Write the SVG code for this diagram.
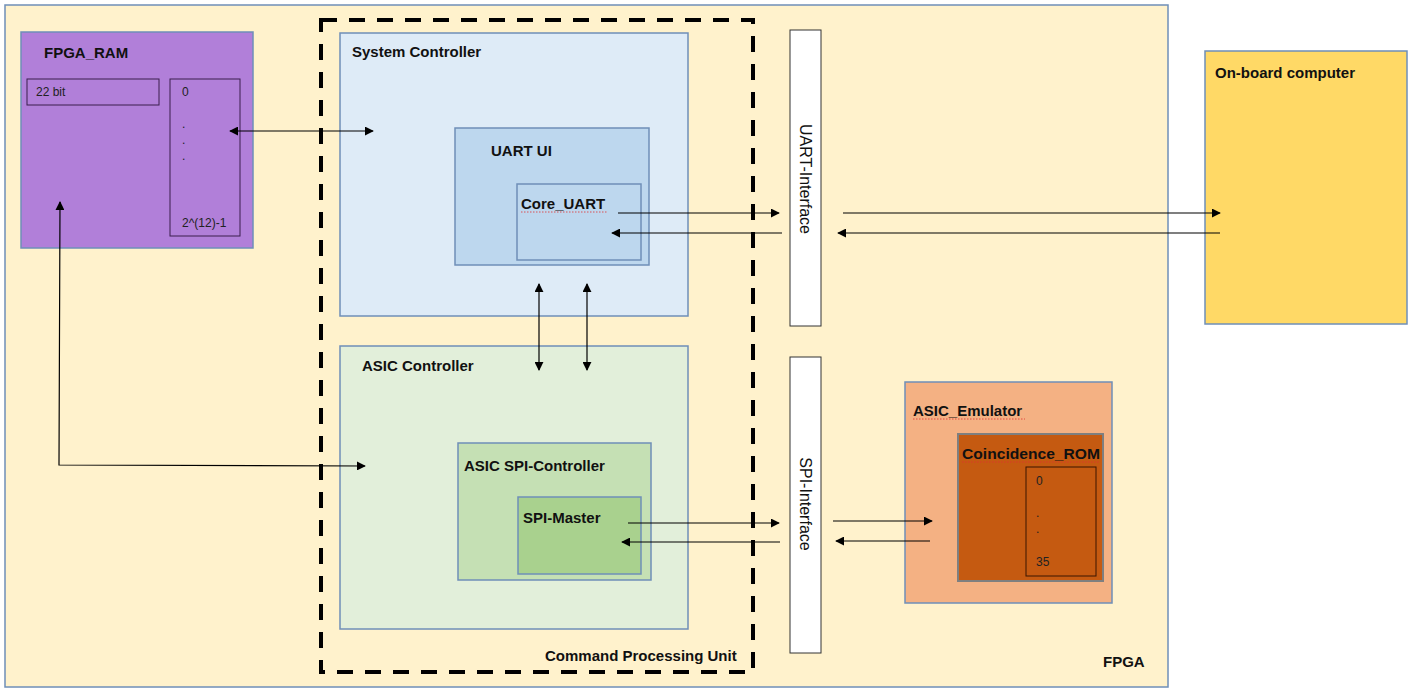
<svg xmlns="http://www.w3.org/2000/svg" width="1413" height="693" viewBox="0 0 1413 693">
<style>
.t{font-family:"Liberation Sans",Arial,sans-serif;font-size:15px;font-weight:bold;fill:#111}
.s{font-family:"Liberation Sans",Arial,sans-serif;font-size:12px;fill:#222}
.v{font-family:"Liberation Sans",Arial,sans-serif;font-size:16px;fill:#111}
.box{stroke:#6f8fb8;stroke-width:1.5}
.c{stroke:#000;stroke-width:1.2;fill:none}
.sq{stroke:#e03030;stroke-width:0.8;fill:none;stroke-dasharray:1.5 1.5}
</style>
<defs>
<marker id="ah" viewBox="0 0 10 10" refX="9" refY="5" markerWidth="9" markerHeight="9" markerUnits="userSpaceOnUse" orient="auto-start-reverse">
<path d="M0,0 L10,5 L0,10 z" fill="#000"/>
</marker>
</defs>
<rect x="0" y="0" width="1413" height="693" fill="#fff"/>
<g id="fpga">
<rect class="box" x="5" y="5" width="1163" height="682" fill="#fff2cc"/>
<text class="t" x="1103" y="667">FPGA</text>
</g>
<g id="fpga_ram">
<rect class="box" x="21" y="32" width="232" height="216" fill="#b17fd9"/>
<text class="t" x="44" y="58">FPGA_RAM</text>
<rect x="27" y="79" width="132" height="26" fill="none" stroke="#3a1f4d" stroke-width="1"/>
<text class="s" x="36" y="96">22 bit</text>
<rect x="170" y="79" width="70" height="157" fill="none" stroke="#3a1f4d" stroke-width="1"/>
<text class="s" x="182" y="96">0</text>
<text class="s" x="182" y="128">.</text>
<text class="s" x="182" y="144">.</text>
<text class="s" x="182" y="160">.</text>
<text class="s" x="182" y="227">2^(12)-1</text>
</g>
<g id="cpu">
<rect x="321" y="20" width="432" height="652" fill="none" stroke="#000" stroke-width="4" stroke-dasharray="16 12"/>
<text class="t" x="545" y="661">Command Processing Unit</text>
</g>
<g id="system_controller">
<rect class="box" x="340" y="33" width="348" height="283" fill="#deebf7"/>
<text class="t" x="352" y="57">System Controller</text>
</g>
<g id="uart_ui">
<rect class="box" x="455" y="128" width="194" height="137" fill="#bdd7ee"/>
<text class="t" x="491" y="156">UART UI</text>
</g>
<g id="core_uart">
<rect class="box" x="517" y="184" width="124" height="76" fill="#bdd7ee"/>
<text class="t" x="521" y="209">Core_UART</text>
<path class="sq" d="M521,212 L607,212"/>
</g>
<g id="asic_controller">
<rect class="box" x="340" y="346" width="348" height="283" fill="#e2efda"/>
<text class="t" x="362" y="371">ASIC Controller</text>
</g>
<g id="asic_spi_controller">
<rect class="box" x="458" y="443" width="193" height="137" fill="#c5e0b4"/>
<text class="t" x="464" y="471">ASIC SPI-Controller</text>
</g>
<g id="spi_master">
<rect class="box" x="518" y="497" width="123" height="77" fill="#a9d18e"/>
<text class="t" x="523" y="523">SPI-Master</text>
</g>
<g id="uart_interface">
<rect x="790" y="30" width="31" height="296" fill="#fff" stroke="#333" stroke-width="1"/>
<text class="v" transform="translate(800,179) rotate(90)" text-anchor="middle">UART-Interface</text>
</g>
<g id="spi_interface">
<rect x="790" y="357" width="31" height="296" fill="#fff" stroke="#333" stroke-width="1"/>
<text class="v" transform="translate(800,504) rotate(90)" text-anchor="middle">SPI-Interface</text>
</g>
<g id="onboard_computer">
<rect class="box" x="1205" y="51" width="202" height="273" fill="#ffd966"/>
<text class="t" x="1215" y="78">On-board computer</text>
</g>
<g id="asic_emulator">
<rect class="box" x="905" y="382" width="207" height="221" fill="#f4b183"/>
<text class="t" x="913" y="416">ASIC_Emulator</text>
<path class="sq" d="M913,419 L1025,419"/>
</g>
<g id="coincidence_rom">
<rect x="958" y="434" width="145" height="147" fill="#c55a11" stroke="#7f7f7f" stroke-width="2"/>
<text class="t" x="962" y="459" textLength="138" lengthAdjust="spacingAndGlyphs">Coincidence_ROM</text>
<path class="sq" d="M962,462 L1099,462"/>
<rect x="1026" y="467" width="70" height="109" fill="none" stroke="#3b1500" stroke-width="1"/>
<text class="s" x="1036" y="485">0</text>
<text class="s" x="1036" y="517">.</text>
<text class="s" x="1036" y="533">.</text>
<text class="s" x="1036" y="566">35</text>
</g>
<g id="connectors">
<path class="c" d="M230,131 L373,131" marker-start="url(#ah)" marker-end="url(#ah)"/>
<path class="c" d="M365,466 L59,465 L60,202" marker-start="url(#ah)" marker-end="url(#ah)"/>
<path class="c" d="M539,284 L539,370" marker-start="url(#ah)" marker-end="url(#ah)"/>
<path class="c" d="M587,284 L587,370" marker-start="url(#ah)" marker-end="url(#ah)"/>
<path class="c" d="M618,213 L779,213" marker-end="url(#ah)"/>
<path class="c" d="M782,233 L612,233" marker-end="url(#ah)"/>
<path class="c" d="M843,213 L1220,213" marker-end="url(#ah)"/>
<path class="c" d="M1220,233 L838,233" marker-end="url(#ah)"/>
<path class="c" d="M628,523 L779,523" marker-end="url(#ah)"/>
<path class="c" d="M780,542 L622,542" marker-end="url(#ah)"/>
<path class="c" d="M833,521 L932,521" marker-end="url(#ah)"/>
<path class="c" d="M930,541 L836,541" marker-end="url(#ah)"/>
</g>
</svg>
